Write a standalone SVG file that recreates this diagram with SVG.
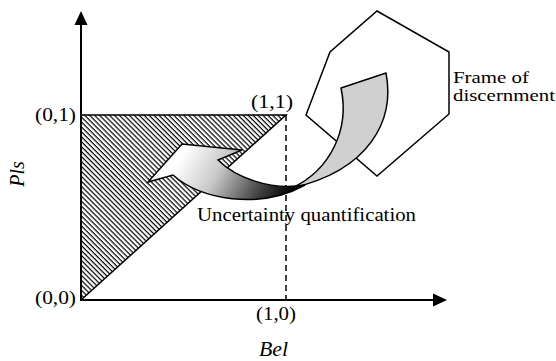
<svg xmlns="http://www.w3.org/2000/svg" width="556" height="361" viewBox="0 0 556 361">
<style>
text{font-family:'Liberation Serif','DejaVu Serif',serif;fill:#000}
.t{font-size:19px}
.tf{font-size:17px}
.ti{font-size:20px;font-style:italic}
.ax{stroke:#000;stroke-width:2;fill:none}
.ol{stroke:#000;stroke-width:1.5;fill:none;stroke-linejoin:miter}
</style>
<defs>
<pattern id="hatch" patternUnits="userSpaceOnUse" width="6" height="3.5" patternTransform="rotate(45)">
<rect x="0" y="0" width="6" height="1.2" fill="#000"/>
</pattern>
<linearGradient id="grad" gradientUnits="userSpaceOnUse" x1="185" y1="150" x2="285" y2="205">
<stop offset="0" stop-color="#ffffff"/>
<stop offset="0.35" stop-color="#c8c8c8"/>
<stop offset="0.75" stop-color="#404040"/>
<stop offset="1" stop-color="#000000"/>
</linearGradient>
</defs>
<rect width="556" height="361" fill="#fff"/>
<g id="region">
<path d="M81,115 L286,115 L81,300 Z" fill="url(#hatch)"/>
<path d="M81,115 L286,115 L81,300" class="ol"/>
</g>
<g id="axes">
<line x1="81" y1="301" x2="81" y2="22" class="ax"/>
<polygon points="81,11 74.5,25 87.5,25" fill="#000"/>
<line x1="80" y1="300" x2="436" y2="300" class="ax"/>
<polygon points="447,300 433,293.5 433,306.5" fill="#000"/>
<line x1="286" y1="115" x2="286" y2="300" stroke="#000" stroke-width="1.5" stroke-dasharray="6,4"/>
</g>
<g id="frame">
<polygon points="377,11 449,52 449,114 377,176 306,115 330,52" fill="#fff" stroke="#000" stroke-width="1.5"/>
</g>
<g id="arrow">
<path d="M341,88 L386,73 C395,120 370,170 292,188 C330,170 350,130 341,88 Z" fill="#d0d0d0" stroke="#000" stroke-width="1.5" stroke-linejoin="round"/>
<path d="M305,185 C270,191 235,177 218,160 L242,150 L182,144 L148,182 L173,175 C200,200 260,210 305,185 Z" fill="url(#grad)" stroke="#000" stroke-width="1.5" stroke-linejoin="miter"/>
</g>
<g id="labels">
<text class="t" x="35" y="121" textLength="41" lengthAdjust="spacingAndGlyphs">(0,1)</text>
<text class="t" x="251" y="108" textLength="42" lengthAdjust="spacingAndGlyphs">(1,1)</text>
<text class="t" x="35" y="304" textLength="41" lengthAdjust="spacingAndGlyphs">(0,0)</text>
<text class="t" x="256" y="320" textLength="40" lengthAdjust="spacingAndGlyphs">(1,0)</text>
<text class="ti" x="259" y="356" textLength="29" lengthAdjust="spacingAndGlyphs">Bel</text>
<text class="ti" transform="translate(24,174) rotate(-90)" text-anchor="middle">Pls</text>
<text class="t" x="197" y="221" textLength="219" lengthAdjust="spacingAndGlyphs">Uncertainty quantification</text>
<text class="tf" x="453" y="83" textLength="76" lengthAdjust="spacingAndGlyphs">Frame of</text>
<text class="tf" x="453" y="101" textLength="102" lengthAdjust="spacingAndGlyphs">discernment</text>
</g>
</svg>
